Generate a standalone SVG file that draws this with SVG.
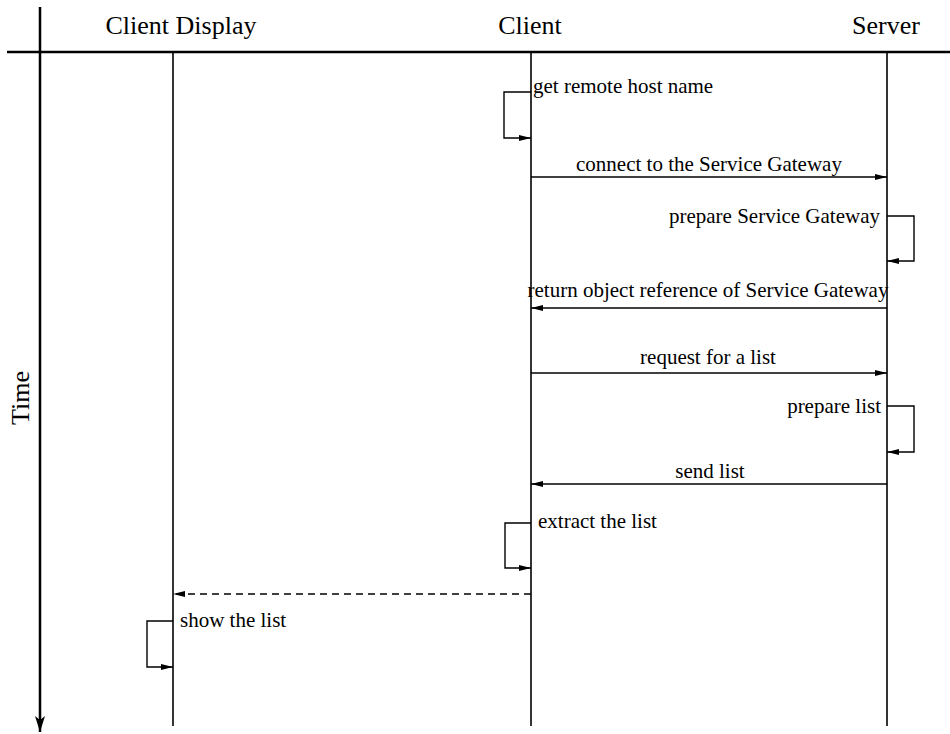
<svg xmlns="http://www.w3.org/2000/svg" width="950" height="734" viewBox="0 0 950 734">
  <style>
    text { font-family: "Liberation Serif", "Times New Roman", serif; fill: #000; }
    .hdr { font-size: 26px; }
    .msg { font-size: 21px; }
    .axis { stroke: #000; stroke-width: 2.5; fill: none; }
    .life { stroke: #000; stroke-width: 1.6; fill: none; }
    .arrow { stroke: #000; stroke-width: 1.4; fill: none; marker-end: url(#head); }
    .dash { stroke-dasharray: 7 5; }
  </style>
  <defs>
    <marker id="head" viewBox="0 0 12 6" refX="12" refY="3" markerWidth="12" markerHeight="6" markerUnits="userSpaceOnUse" orient="auto">
      <path d="M0,0 L12,3 L0,6 z" fill="#000"/>
    </marker>
    <marker id="axishead" viewBox="0 0 10 16" refX="5" refY="16" markerWidth="10" markerHeight="16" markerUnits="userSpaceOnUse" orient="0">
      <path d="M0,0 L5,16 L10,0 L5,4 z" fill="#000"/>
    </marker>
  </defs>

  <!-- time axis and header rule -->
  <g id="frame">
    <line class="axis" x1="7" y1="52" x2="950" y2="52"/>
    <line class="axis" x1="40" y1="7" x2="40" y2="732"/>
    <path d="M35,716 L40,732 L45,716 L40,720 z" fill="#000"/>
    <text class="hdr" x="0" y="0" text-anchor="middle" transform="translate(29,398) rotate(-90)">Time</text>
  </g>

  <!-- participants -->
  <g id="client-display">
    <text class="hdr" x="181" y="34" text-anchor="middle">Client Display</text>
    <line class="life" x1="173" y1="52" x2="173" y2="726"/>
  </g>
  <g id="client">
    <text class="hdr" x="530" y="34" text-anchor="middle">Client</text>
    <line class="life" x1="531" y1="52" x2="531" y2="726"/>
  </g>
  <g id="server">
    <text class="hdr" x="886" y="34" text-anchor="middle">Server</text>
    <line class="life" x1="887" y1="52" x2="887" y2="726"/>
  </g>

  <!-- messages -->
  <g id="connectors">
    <path class="arrow" d="M531,92 H504 V138 H531"/>
    <line class="arrow" x1="531" y1="177" x2="887" y2="177"/>
    <path class="arrow" d="M887,216 H914 V261 H887"/>
    <line class="arrow" x1="887" y1="308" x2="531" y2="308"/>
    <line class="arrow" x1="531" y1="373" x2="887" y2="373"/>
    <path class="arrow" d="M887,406 H914 V452 H887"/>
    <line class="arrow" x1="887" y1="484" x2="531" y2="484"/>
    <path class="arrow" d="M531,523 H505 V568 H531"/>
    <line class="arrow dash" x1="531" y1="594" x2="173" y2="594"/>
    <path class="arrow" d="M173,621 H147 V667 H173"/>
  </g>

  <!-- message labels -->
  <g id="labels">
    <text class="msg" x="533" y="93">get remote host name</text>
    <text class="msg" x="709" y="171" text-anchor="middle">connect to the Service Gateway</text>
    <text class="msg" x="880" y="223" text-anchor="end">prepare Service Gateway</text>
    <text class="msg" x="708" y="297" text-anchor="middle">return object reference of Service Gateway</text>
    <text class="msg" x="708" y="364" text-anchor="middle">request for a list</text>
    <text class="msg" x="881" y="413" text-anchor="end">prepare list</text>
    <text class="msg" x="710" y="478" text-anchor="middle">send list</text>
    <text class="msg" x="538" y="528">extract the list</text>
    <text class="msg" x="180" y="627">show the list</text>
  </g>
</svg>
